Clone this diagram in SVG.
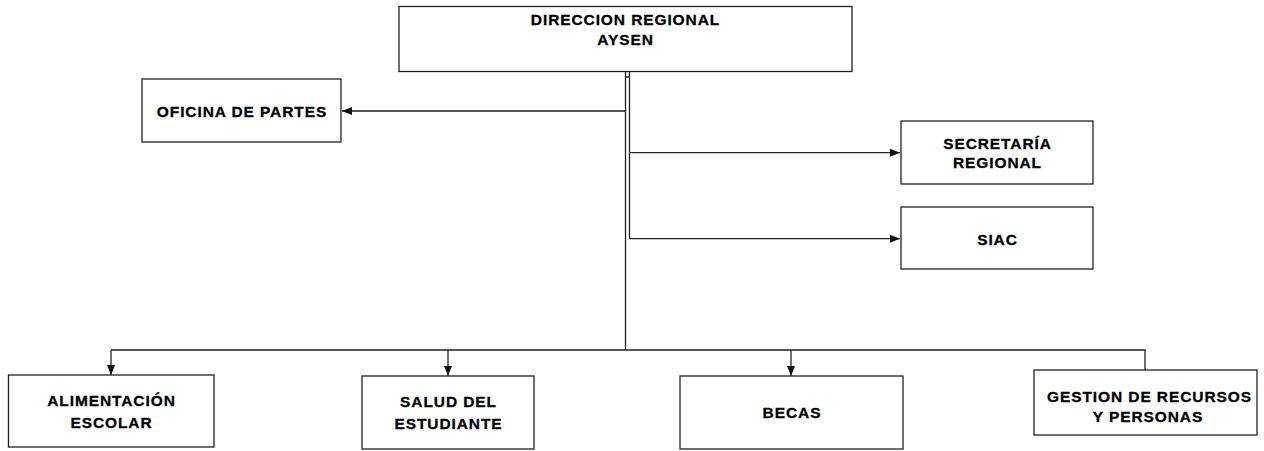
<svg xmlns="http://www.w3.org/2000/svg" width="1264" height="451" viewBox="0 0 1264 451">
<defs>
<marker id="arr" markerUnits="userSpaceOnUse" markerWidth="10" markerHeight="10" viewBox="0 0 10 10" refX="10" refY="5" orient="auto">
<path d="M0,1 L10,5 L0,9 Z" fill="#111"/>
</marker>
<style>
.box{fill:#fff;stroke:#222;stroke-width:1.3}
.t{font-family:"Liberation Sans",Arial,sans-serif;font-weight:bold;font-size:15.5px;letter-spacing:0.9px;fill:#000;stroke:#000;stroke-width:0.3px;text-anchor:middle}
.c{fill:none;stroke:#222;stroke-width:1.3}
</style>
</defs>
<rect width="1264" height="451" fill="#fff"/>
<g id="connectors">
<path class="c" d="M625.5,71.5 V350"/>
<path class="c" d="M625.5,77 H629.5 V238.7 M629.5,71.5 V77"/>
<path class="c" d="M625.5,111 H342" marker-end="url(#arr)"/>
<path class="c" d="M629.5,152.7 H900" marker-end="url(#arr)"/>
<path class="c" d="M629.5,238.7 H900" marker-end="url(#arr)"/>
<path class="c" d="M111,350 H1145 V370"/>
<path class="c" d="M111,350 V375" marker-end="url(#arr)"/>
<path class="c" d="M448,350 V376" marker-end="url(#arr)"/>
<path class="c" d="M791,350 V376" marker-end="url(#arr)"/>
</g>
<g id="direccion">
<rect class="box" x="399" y="6.5" width="453" height="65"/>
<text class="t" x="625.5" y="25">DIRECCION REGIONAL</text>
<text class="t" x="625.5" y="44.5">AYSEN</text>
</g>
<g id="oficina">
<rect class="box" x="142" y="79" width="199" height="63"/>
<text class="t" x="242" y="116.5">OFICINA DE PARTES</text>
</g>
<g id="secretaria">
<rect class="box" x="901" y="121" width="192" height="63"/>
<text class="t" x="997.5" y="148.5">SECRETARÍA</text>
<text class="t" x="997.5" y="167.5">REGIONAL</text>
</g>
<g id="siac">
<rect class="box" x="901" y="207" width="192" height="62"/>
<text class="t" x="997.5" y="244.5">SIAC</text>
</g>
<g id="alimentacion">
<rect class="box" x="8.5" y="375" width="205.5" height="72"/>
<text class="t" x="111.5" y="406">ALIMENTACIÓN</text>
<text class="t" x="111.5" y="428">ESCOLAR</text>
</g>
<g id="salud">
<rect class="box" x="362" y="376" width="172" height="73"/>
<text class="t" x="448.5" y="407">SALUD DEL</text>
<text class="t" x="448.5" y="429">ESTUDIANTE</text>
</g>
<g id="becas">
<rect class="box" x="680" y="376" width="223" height="73"/>
<text class="t" x="792" y="418">BECAS</text>
</g>
<g id="gestion">
<rect class="box" x="1034" y="370" width="223" height="65"/>
<text class="t" x="1149.5" y="402">GESTION DE RECURSOS</text>
<text class="t" x="1148" y="422">Y PERSONAS</text>
</g>
</svg>
